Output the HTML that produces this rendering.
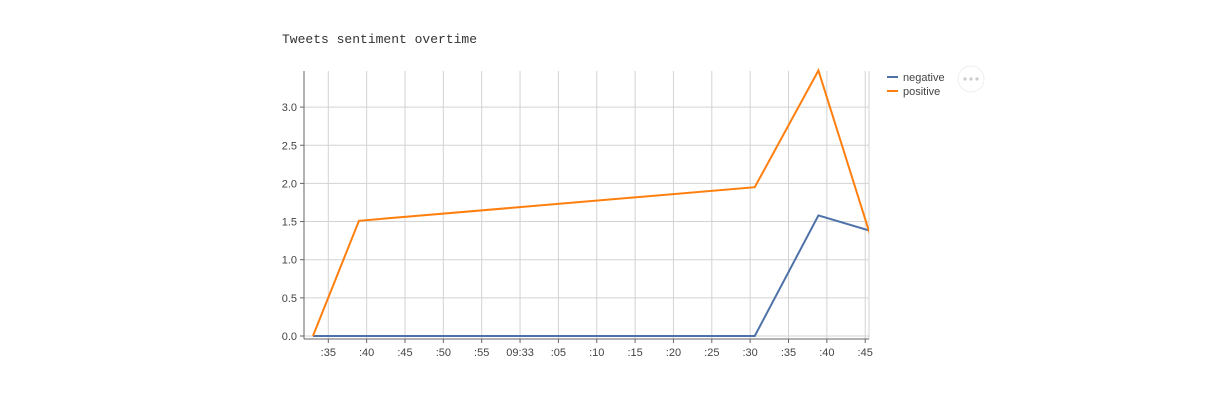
<!DOCTYPE html>
<html><head><meta charset="utf-8"><style>
body{margin:0;background:#fff;width:1206px;height:411px;overflow:hidden}
svg{position:absolute;left:0;top:0}
text{font-family:"Liberation Sans","DejaVu Sans",sans-serif;font-size:11px;fill:#444}
</style></head><body>
<svg id="c" width="1206" height="411">
<text x="282" y="43" style="font-family:'Liberation Mono',monospace;font-size:13px;fill:#333">Tweets sentiment overtime</text>
<g id="grid"></g><g id="axes"></g><g id="series"></g>
<g>
<line x1="887" y1="77" x2="898" y2="77" stroke="#4e72a8" stroke-width="2"/>
<text x="903" y="81">negative</text>
<line x1="887" y1="91" x2="898" y2="91" stroke="#ff7f0e" stroke-width="2"/>
<text x="903" y="95">positive</text>
</g>
<g>
<circle cx="971" cy="79" r="13" fill="#fff" stroke="#eee"/>
<circle cx="965" cy="79" r="1.6" fill="#ccc"/><circle cx="971" cy="79" r="1.6" fill="#ccc"/><circle cx="977" cy="79" r="1.6" fill="#ccc"/>
</g>
</svg>
<script>
const times=[33,39,90.6,98.9,105.6];
const negative=[0,0,0,1.58,1.38];
const positive=[0,1.51,1.95,3.48,1.34];
const xTicks=[35,40,45,50,55,60,65,70,75,80,85,90,95,100,105];
const xTickLabels=[":35",":40",":45",":50",":55","09:33",":05",":10",":15",":20",":25",":30",":35",":40",":45"];
const yTicks=[0,0.5,1,1.5,2,2.5,3];
const yTickLabels=["0.0","0.5","1.0","1.5","2.0","2.5","3.0"];
const L=304,R=869,T=71,B=339;
const X=t=>328.3+(t-35)*7.67;
const Y=v=>336-v*76.3;
const NS="http://www.w3.org/2000/svg";
function mk(tag,attrs,parent){const e=document.createElementNS(NS,tag);for(const k in attrs)e.setAttribute(k,attrs[k]);parent.appendChild(e);return e;}
const grid=document.getElementById('grid'),axes=document.getElementById('axes'),ser=document.getElementById('series');
xTicks.forEach((t,i)=>{
 const l=mk('line',{x1:X(t),x2:X(t),y1:T,y2:B,stroke:'#d3d3d3'},grid);
 
 
 const tk=mk('line',{x1:X(t),x2:X(t),y1:B,y2:B+4,stroke:'#666'},axes);
 
 
 const tx=mk('text',{x:X(t),y:356,'text-anchor':'middle'},axes);tx.textContent=xTickLabels[i];
 
 
});
yTicks.forEach((v,i)=>{
 const l=mk('line',{x1:L,x2:R,y1:Y(v),y2:Y(v),stroke:'#d3d3d3'},grid);
 
 
 const tk=mk('line',{x1:L-4,x2:L,y1:Y(v),y2:Y(v),stroke:'#666'},axes);
 
 
 const tx=mk('text',{x:L-7,y:Y(v)+4,'text-anchor':'end'},axes);tx.textContent=yTickLabels[i];
 
 
});
const rb=mk('line',{x1:R,x2:R,y1:T,y2:B,stroke:'#d3d3d3'},grid);


const ya=mk('line',{x1:L,x2:L,y1:T,y2:B,stroke:'#666'},axes);


const xa=mk('line',{x1:L,x2:R,y1:B,y2:B,stroke:'#666'},axes);


function line(vals,color,name){
 const p=mk('polyline',{points:times.map((t,i)=>X(t)+','+Y(vals[i])).join(' '),fill:'none',stroke:color,'stroke-width':2,'stroke-linejoin':'miter'},ser);
 
 
}
const cp=mk('clipPath',{id:'cp'},document.getElementById('c'));
mk('rect',{x:L,y:T-3,width:R-L,height:B-T+3},cp);
ser.setAttribute('clip-path','url(#cp)');
line(negative,'#4e72a8','negative-line');
line(positive,'#ff7f0e','positive-line');
</script>
</body></html>
